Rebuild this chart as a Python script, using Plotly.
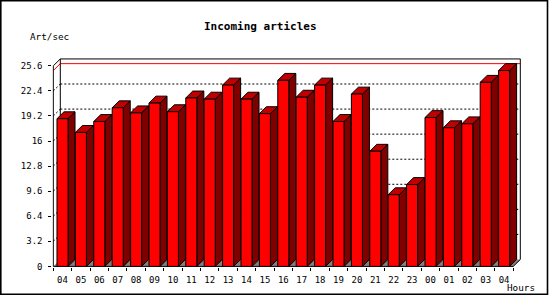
import plotly.graph_objects as go

# ---------------- data ----------------
hours = ["04", "05", "06", "07", "08", "09", "10", "11", "12", "13", "14", "15",
         "16", "17", "18", "19", "20", "21", "22", "23", "00", "01", "02", "03", "04"]
values = [18.85, 17.1, 18.5, 20.25, 19.6, 20.85, 19.75, 21.5, 21.35, 23.15, 21.35, 19.5,
          23.75, 21.6, 23.15, 18.5, 22.0, 14.7, 9.15, 10.45, 19.0, 17.7, 18.2, 23.5, 25.0]
y_ticks = [0, 3.2, 6.4, 9.6, 12.8, 16, 19.2, 22.4, 25.6]
y_tick_text = ["0", "3.2", "6.4", "9.6", "12.8", "16", "19.2", "22.4", "25.6"]
title_text = "Incoming articles"
y_title = "Art/sec"
x_title = "Hours"

# ---------------- geometry / style ----------------
W, H = 550, 300
XPU = 18.4      # px per x unit
YPU = 7.94      # px per y unit
DX = 7 / XPU    # 3-D depth in data units
DY = 7 / YPU
BW = 0.6        # bar front width
PADX = 1 / XPU
PADY = 1 / YPU
n = len(values)
YMAX = y_ticks[-1]
FONT = "DejaVu Sans Mono"

x_left_px = 53.3
y_zero_px = 270.0
x_dom = [(x_left_px - 1) / W, (x_left_px + n * XPU + 7 + 1) / W]
y_top_px = y_zero_px - (YMAX + DY) * YPU - 1
y_dom = [1 - (y_zero_px + 1) / H, 1 - y_top_px / H]

fig = go.Figure()

def poly_trace(xs, ys, fill, line_color="black", width=1, dash=None, mode="lines"):
    d = dict(color=line_color, width=width)
    if dash:
        d["dash"] = dash
    return go.Scatter(x=xs, y=ys, mode=mode, line=d,
                      fill="toself" if fill else None,
                      fillcolor=fill, hoverinfo="skip", showlegend=False)

x0, x1 = -0.5, n - 0.5

# floor
fig.add_trace(poly_trace([x0, x1, x1 + DX, x0 + DX, x0], [0, 0, DY, DY, 0],
                         "#808080", line_color="#808080", width=0))

# back wall + side wall dotted grid
gx, gy = [], []
sx, sy = [], []
for t in y_ticks[1:-1]:
    gx += [x0 + DX, x1 + DX, None]
    gy += [t + DY, t + DY, None]
    sx += [x0, x0 + DX, None]
    sy += [t, t + DY, None]
fig.add_trace(poly_trace(gx, gy, None, dash="2px,2px"))
fig.add_trace(poly_trace(sx, sy, None, dash="2px,2px"))

# maximum line (red)
vmax = max(values)
fig.add_trace(poly_trace([x0, x0 + DX, x1 + DX], [vmax, vmax + DY, vmax + DY],
                         None, line_color="#FF0000"))

# frame
fx = [x0, x0, x0 + DX, x1 + DX, x1 + DX, x1, x0, None,
      x0 + DX, x0 + DX, None]
fy = [0, YMAX, YMAX + DY, YMAX + DY, DY, 0, 0, None,
      DY, YMAX + DY, None]
fig.add_trace(poly_trace(fx, fy, None))

# bars
frx, fry, sdx, sdy, tpx, tpy = [], [], [], [], [], []
for i, v in enumerate(values):
    xl, xr = i - BW / 2, i + BW / 2
    frx += [xl, xr, xr, xl, xl, None]
    fry += [0, 0, v, v, 0, None]
    sdx += [xr, xr + DX, xr + DX, xr, xr, None]
    sdy += [0, DY, v + DY, v, 0, None]
    tpx += [xl, xr, xr + DX, xl + DX, xl, None]
    tpy += [v, v, v + DY, v + DY, v, None]
fig.add_trace(poly_trace(sdx, sdy, "#800000"))
fig.add_trace(poly_trace(tpx, tpy, "#C00000"))
fig.add_trace(poly_trace(frx, fry, "#FF0000"))

fig.update_layout(
    width=W, height=H,
    margin=dict(l=0, r=0, t=0, b=0),
    paper_bgcolor="white", plot_bgcolor="white",
    showlegend=False,
    font=dict(family=FONT, size=9, color="black"),
    xaxis=dict(domain=x_dom, range=[x0 - PADX, x1 + DX + PADX],
               showgrid=False, zeroline=False, showline=False,
               tickmode="array", tickvals=list(range(n)), ticktext=hours,
               ticks="", ticklabelstandoff=6,
               tickfont=dict(family=FONT, size=9, color="black"),
               minor=dict(tickmode="array",
                          tickvals=[i - 0.5 for i in range(n + 1)],
                          ticks="outside", ticklen=3, tickcolor="black",
                          tickwidth=1, showgrid=False),
               fixedrange=True),
    yaxis=dict(domain=y_dom, range=[-PADY, YMAX + DY + PADY],
               showgrid=False, zeroline=False, showline=False,
               tickmode="array", tickvals=y_ticks, ticktext=y_tick_text,
               ticks="outside", ticklen=3, tickcolor="black", tickwidth=1,
               ticklabelstandoff=4,
               tickfont=dict(family=FONT, size=9, color="black"),
               fixedrange=True),
    annotations=[
        dict(text="<b>" + title_text + "</b>", x=260 / W, y=1 - 27 / H,
             xref="paper", yref="paper", showarrow=False,
             xanchor="center", yanchor="middle",
             font=dict(family=FONT, size=11, color="black")),
        dict(text=y_title, x=28 / W, y=1 - 37 / H, xref="paper", yref="paper",
             showarrow=False, xanchor="left", yanchor="middle",
             font=dict(family=FONT, size=9.3, color="black")),
        dict(text=x_title, x=505 / W, y=1 - 291.5 / H, xref="paper", yref="paper",
             showarrow=False, xanchor="left", yanchor="middle",
             font=dict(family=FONT, size=9.3, color="black")),
    ],
    shapes=[dict(type="rect", xref="paper", yref="paper",
                 x0=0.8 / W, x1=547.5 / W, y0=1 - 0.8 / H, y1=1 - 298.2 / H,
                 line=dict(color="black", width=1.6), layer="above")],
)

fig.write_html("out.html", config={"displayModeBar": False, "staticPlot": True})
